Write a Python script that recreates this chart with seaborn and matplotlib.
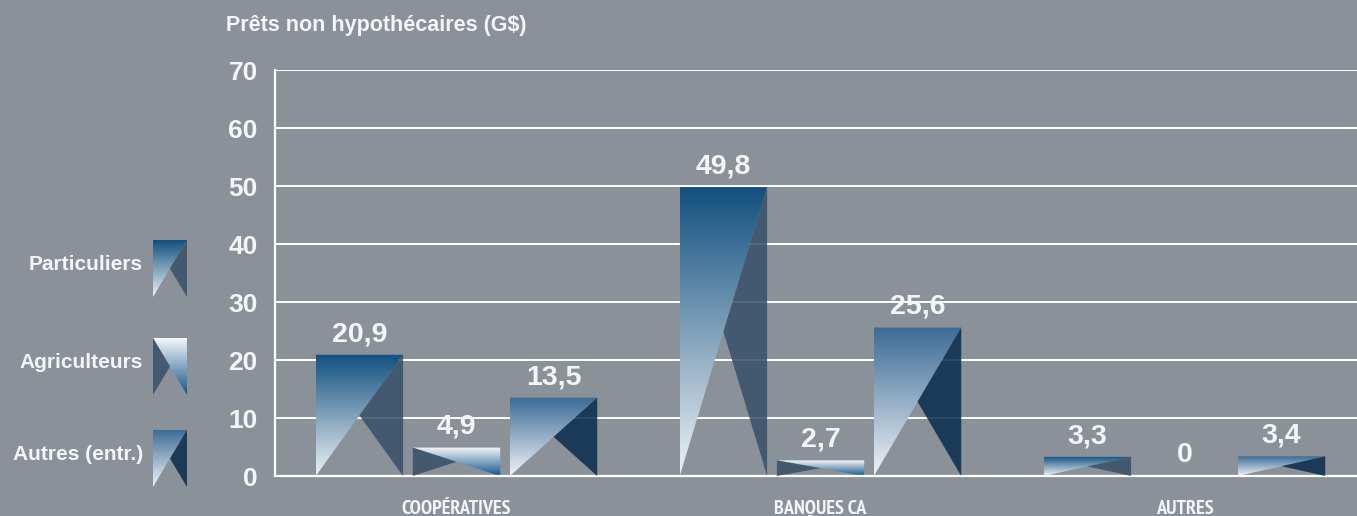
import matplotlib
matplotlib.use('Agg')
import numpy as np
import pandas as pd
import matplotlib.pyplot as plt
import seaborn as sns
from matplotlib.colors import LinearSegmentedColormap
from matplotlib.patches import Polygon
from matplotlib import font_manager

# data
categories = ['COOPÉRATIVES', 'BANQUES CA', 'AUTRES']
series = ['Particuliers', 'Agriculteurs', 'Autres (entr.)']
particuliers = [20.9, 49.8, 3.3]
agriculteurs = [4.9, 2.7, 0]
autres_entr = [13.5, 25.6, 3.4]
y_ticks = [0, 10, 20, 30, 40, 50, 60, 70]
title = 'Prêts non hypothécaires (G$)'

bg = '#8b9199'
txt = '#f4f5f6'

# gradient top, gradient bottom, dark triangle, side of the dark triangle
styles = {
    'Particuliers': ('#11507f', '#eef2f5', '#374f68', 'right'),
    'Agriculteurs': ('#f5f7f9', '#11558a', '#374f68', 'left'),
    'Autres (entr.)': ('#3b6b96', '#f0f3f6', '#072b4c', 'right'),
}

df = pd.DataFrame({
    'categorie': categories * 3,
    'serie': [s for s in series for _ in categories],
    'valeur': particuliers + agriculteurs + autres_entr,
})

sns.set_style('white')
plt.rcParams['font.family'] = ['Liberation Sans', 'DejaVu Sans']

# condensed bold font for the category labels, if one is installed
cond = [f for f in font_manager.fontManager.ttflist
        if f.stretch in ('condensed', 'semi-condensed', 'extra-condensed')
        or 'Condensed' in f.name or 'Narrow' in f.name]
cond.sort(key=lambda f: (f.weight not in ('bold', 700), 'Narrow' not in f.name))
if cond:
    cat_font = font_manager.FontProperties(fname=cond[0].fname, size=14.5)
else:
    cat_font = font_manager.FontProperties(family='DejaVu Sans', weight='bold', size=10)


def draw_bar(ax, x0, w, h, serie, z=2):
    top, bottom, dark, side = styles[serie]
    cmap = LinearSegmentedColormap.from_list('g', [top, bottom])
    mid = (x0 + w / 2, h / 2)
    if side == 'right':
        grad_pts = [(x0, 0), (x0, h), (x0 + w, h), mid]
        dark_pts = [(x0 + w, h), (x0 + w, 0), mid]
    else:
        grad_pts = [(x0 + w, 0), (x0 + w, h), (x0, h), mid]
        dark_pts = [(x0, h), (x0, 0), mid]
    clip = Polygon(grad_pts, closed=True, transform=ax.transData)
    im = ax.imshow(np.linspace(0, 1, 256).reshape(-1, 1), cmap=cmap, aspect='auto',
                   extent=[x0, x0 + w, 0, h], origin='upper', zorder=z,
                   interpolation='bilinear')
    im.set_clip_path(clip)
    ax.add_patch(Polygon(dark_pts, closed=True, facecolor=dark, edgecolor='none',
                         alpha=0.85, zorder=z + 1))


fig = plt.figure(figsize=(13.57, 5.16), dpi=100, facecolor=bg)
ax = fig.add_axes([274.5 / 1357, 40 / 516, 1 - 274.5 / 1357, 406 / 516])
ax.set_facecolor(bg)

sns.barplot(data=df, x='categorie', y='valeur', hue='serie', order=categories,
            hue_order=series, width=0.8, gap=0.1, errorbar=None, legend=False, ax=ax)

for serie, values, cont in zip(series, [particuliers, agriculteurs, autres_entr], ax.containers):
    for bar, v in zip(cont, values):
        bar.set_visible(False)
        x0, w, h = bar.get_x(), bar.get_width(), bar.get_height()
        if h > 0:
            draw_bar(ax, x0, w, h, serie)
        ax.annotate(str(v).replace('.', ','), (x0 + w / 2, h), xytext=(0, 5.5),
                    textcoords='offset points', ha='center', va='bottom',
                    fontsize=20.5, fontweight='bold', color=txt, zorder=5)

ax.set_xlim(-0.5, 1082.5 / 364 - 0.5)
ax.set_ylim(0, 70)
ax.set_yticks(y_ticks)
ax.yaxis.grid(True, color='white', linewidth=1.4)
ax.set_axisbelow(True)
for s in ['top', 'right']:
    ax.spines[s].set_visible(False)
for s in ['left', 'bottom']:
    ax.spines[s].set_color('white')
    ax.spines[s].set_linewidth(1.6)
ax.tick_params(axis='y', length=0, pad=12, labelsize=19, labelcolor=txt)
for lab in ax.get_yticklabels():
    lab.set_fontweight('bold')
ax.set_xticks(range(len(categories)))
ax.set_xticklabels(categories, fontproperties=cat_font, color=txt)
ax.tick_params(axis='x', which='major', length=0, pad=17)
ax.set_xticks([0.5, 1.5], minor=True)
ax.tick_params(axis='x', which='minor', direction='in', length=8, width=1.2, color='white')
ax.set_xlabel('')
ax.set_ylabel('')

# legend drawn by hand on the left
icon_tops = [240, 338, 430]
for serie, top in zip(series, icon_tops):
    iax = fig.add_axes([153 / 1357, (516 - top - 57) / 516, 34 / 1357, 57 / 516])
    iax.axis('off')
    draw_bar(iax, 0, 1, 1, serie)
    iax.set_xlim(0, 1)
    iax.set_ylim(0, 1)
    fig.text(143 / 1357, (516 - top - 25) / 516, serie, ha='right', va='center',
             fontsize=15, fontweight='bold', color=txt)

fig.text(226 / 1357, 1 - 25 / 516, title, ha='left', va='center',
         fontsize=15.5, fontweight='bold', color=txt)

fig.savefig('out.png', dpi=100, facecolor=bg)
